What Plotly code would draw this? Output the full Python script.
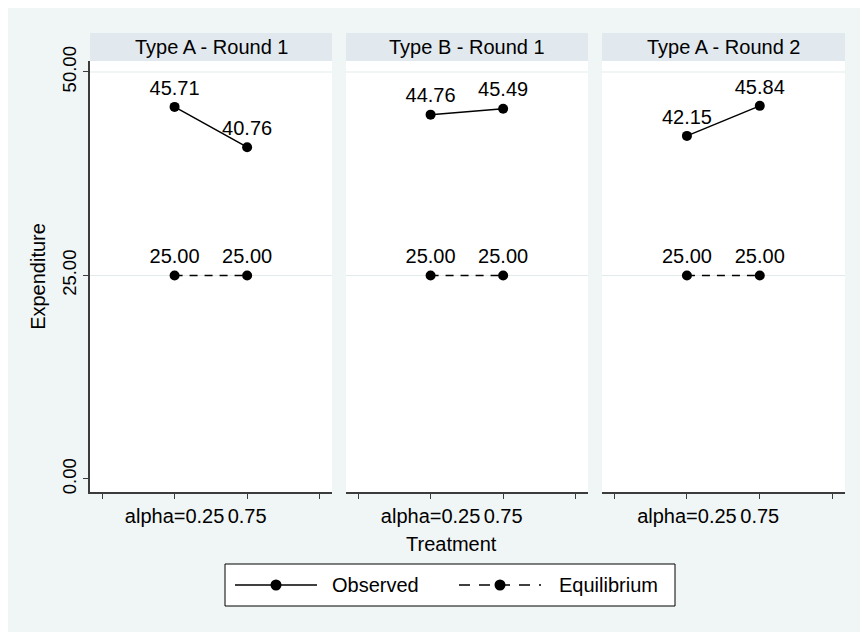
import plotly.graph_objects as go

# ---- data ----
panels = ["Type A - Round 1", "Type B - Round 1", "Type A - Round 2"]
treatments = [1, 2]
x_tickvals = [0, 1, 2, 3]
x_ticktext = ["", "alpha=0.25", "0.75", ""]
observed = [[45.71, 40.76], [44.76, 45.49], [42.15, 45.84]]
equilibrium = [[25.00, 25.00], [25.00, 25.00], [25.00, 25.00]]
y_tickvals = [0, 25, 50]
y_ticktext = ["0.00", "25.00", "50.00"]
grid_values = [25, 50]
legend_names = ["Observed", "Equilibrium"]

OFF = 8  # page body margin in the screenshot
W, H = 868 - OFF, 632 - OFF
FONT = "Arial, Liberation Sans, sans-serif"
BG = "#f0f5f5"
STRIP = "#e1e9ef"
AXC = "#3c3c3c"


def fx(x):
    return (x - OFF) / W


def fy(y):
    return 1 - (y - OFF) / H


x_dom_px = [(90, 332), (346, 588), (602, 845)]
y_dom = [fy(492), fy(61)]

fig = go.Figure()

for i, name in enumerate(panels):
    ax = "" if i == 0 else str(i + 1)
    for vals, dash in ((observed[i], "solid"), (equilibrium[i], "8px,7px")):
        fig.add_trace(go.Scatter(
            x=treatments, y=vals, mode="lines+markers+text",
            text=[f"{v:.2f}" for v in vals], textposition="top center",
            textfont=dict(size=20, color="black", family=FONT),
            line=dict(color="black", width=1.5, dash=dash),
            marker=dict(color="black", size=10),
            showlegend=False, hoverinfo="skip",
            xaxis="x" + ax, yaxis="y" + ax, cliponaxis=False))

layout = dict(
    template="none",
    width=W, height=H,
    margin=dict(l=0, r=0, t=0, b=0, pad=0, autoexpand=False),
    paper_bgcolor=BG, plot_bgcolor="white",
    font=dict(family=FONT, size=20, color="black"),
    showlegend=False,
    shapes=[], annotations=[],
)

for i, name in enumerate(panels):
    ax = "" if i == 0 else str(i + 1)
    x0, x1 = fx(x_dom_px[i][0]), fx(x_dom_px[i][1])
    layout["xaxis" + ax] = dict(
        domain=[x0, x1], range=[-0.166, 3.17], automargin=False,
        tickvals=x_tickvals, ticktext=x_ticktext, tickangle=0,
        ticks="outside", ticklen=5, tickcolor=AXC, tickwidth=1.2,
        showline=True, linecolor=AXC, linewidth=1.5,
        showgrid=False, zeroline=False, anchor="y" + ax,
        tickfont=dict(size=20), fixedrange=True)
    layout["yaxis" + ax] = dict(
        domain=y_dom, range=[-1.6, 51.35], automargin=False,
        tickvals=y_tickvals, ticktext=y_ticktext,
        showgrid=False, zeroline=False, anchor="x" + ax,
        showline=(i == 0), linecolor=AXC, linewidth=1.5,
        ticks="outside" if i == 0 else "", ticklen=5, tickcolor=AXC, tickwidth=1.2,
        showticklabels=(i == 0), tickangle=-90, tickfont=dict(size=18.5),
        fixedrange=True)
    if i == 0:
        layout["yaxis"]["title"] = dict(text="Expenditure", font=dict(size=20), standoff=8)
    # header strip
    layout["shapes"].append(dict(type="rect", xref="paper", yref="paper",
                                 x0=x0, x1=x1, y0=fy(61), y1=fy(33),
                                 fillcolor=STRIP, line=dict(width=0), layer="below"))
    layout["annotations"].append(dict(text=name, xref="paper", yref="paper",
                                      x=(x0 + x1) / 2, y=fy(47),
                                      xanchor="center", yanchor="middle",
                                      showarrow=False, font=dict(size=20)))
    for g in grid_values:
        layout["shapes"].append(dict(type="line", xref="x" + ax + " domain", yref="y" + ax,
                                     x0=0, x1=1, y0=g, y1=g,
                                     line=dict(color="#e2ebeb", width=1), layer="below"))

# x axis title
layout["annotations"].append(dict(text="Treatment", xref="paper", yref="paper",
                                  x=fx(451), y=fy(544), xanchor="center", yanchor="middle",
                                  showarrow=False, font=dict(size=20)))

# legend box (drawn)
layout["shapes"].append(dict(type="rect", xref="paper", yref="paper",
                             x0=fx(225), x1=fx(675), y0=fy(606), y1=fy(564),
                             fillcolor="white", line=dict(color="black", width=1)))
leg_items = [(235, 317, 330, "solid"), (459, 541, 557, "11px,9px")]
for (lx0, lx1, tx, dash), nm in zip(leg_items, legend_names):
    layout["shapes"].append(dict(type="line", xref="paper", yref="paper",
                                 x0=fx(lx0), x1=fx(lx1), y0=fy(585), y1=fy(585),
                                 line=dict(color="black", width=1.5, dash=dash)))
    cx = (lx0 + lx1) / 2
    layout["shapes"].append(dict(type="circle", xref="paper", yref="paper",
                                 x0=fx(cx - 5.5), x1=fx(cx + 5.5),
                                 y0=fy(590.5), y1=fy(579.5),
                                 fillcolor="black", line=dict(color="black", width=0)))
    layout["annotations"].append(dict(text=nm, xref="paper", yref="paper",
                                      x=fx(tx), y=fy(585), xanchor="left", yanchor="middle",
                                      showarrow=False, font=dict(size=20)))

fig.update_layout(**layout)
fig.write_html("out.html")
